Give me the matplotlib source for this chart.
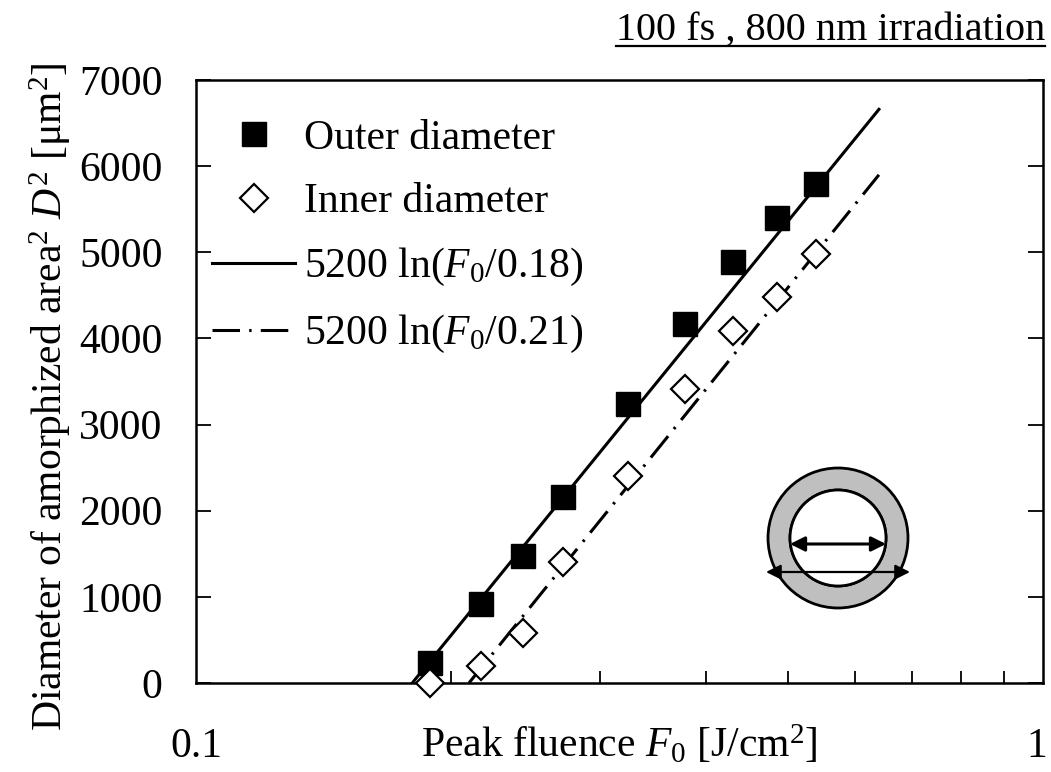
import matplotlib
matplotlib.use('Agg')
import matplotlib.pyplot as plt
import matplotlib.transforms as mtransforms
from matplotlib.legend_handler import HandlerLine2D
from matplotlib.lines import Line2D
from matplotlib.patches import Wedge, Circle
from matplotlib.ticker import LogLocator, NullFormatter

plt.rcParams['font.family'] = ['Liberation Serif', 'DejaVu Serif']
plt.rcParams['mathtext.fontset'] = 'custom'
plt.rcParams['mathtext.rm'] = 'Liberation Serif'
plt.rcParams['mathtext.it'] = 'Liberation Serif:italic'

# peak fluence [J/cm2] and squared diameters [um2]
fluence = [0.189, 0.217, 0.243, 0.271, 0.324, 0.378, 0.431, 0.485, 0.540]
outer_d2 = [230, 920, 1480, 2160, 3240, 4170, 4890, 5400, 5790]
inner_d2 = [0, 200, 580, 1405, 2400, 3415, 4090, 4480, 4980]

# fitted lines (straight on the semilog axes), end points
fit_outer_f = [0.18, 0.64]
fit_outer_d2 = [0, 6660]
fit_inner_f = [0.21, 0.64]
fit_inner_d2 = [0, 5900]

fs = 30


class LeftMarker(HandlerLine2D):
    # put the marker at the left end of the handle
    def get_xdata(self, legend, xdescent, ydescent, width, height, fontsize):
        xdata, _ = super().get_xdata(legend, xdescent, ydescent, width, height, fontsize)
        return xdata, [-xdescent + 0.15 * width]


fig = plt.figure(figsize=(10.51, 7.72), dpi=100)
ax = fig.add_axes([0.1865, 0.1153, 0.806, 0.781])

l1, = ax.plot(fluence, outer_d2, 's', color='k', ms=17, clip_on=False,
              zorder=4, label='Outer diameter')
l2, = ax.plot(fluence, inner_d2, 'D', mfc='white', mec='k', mew=1.6, ms=14,
              clip_on=False, zorder=5, label='Inner diameter')
l3, = ax.plot(fit_outer_f, fit_outer_d2, '-', color='k', lw=2.2,
              label=r'5200 ln($F_0$/0.18)')
l4, = ax.plot(fit_inner_f, fit_inner_d2, color='k', lw=2.2,
              dashes=(9, 3, 0.8, 3), label=r'5200 ln($F_0$/0.21)')

ax.set_xscale('log')
ax.set_xlim(0.1, 1)
ax.set_ylim(0, 7000)
ax.set_yticks(range(0, 7001, 1000))
ax.set_xticks([0.1, 1])
ax.set_xticklabels(['0.1', '1'])
ax.xaxis.set_minor_locator(LogLocator(base=10, subs=range(2, 10)))
ax.xaxis.set_minor_formatter(NullFormatter())
ax.tick_params(axis='x', which='major', length=0, pad=32, labelsize=fs)
ax.tick_params(axis='x', which='minor', direction='in', length=9, width=1.3)
ax.tick_params(axis='y', direction='in', length=11, width=1.3, right=True,
               pad=24, labelsize=fs)
for s in ax.spines.values():
    s.set_linewidth(1.8)

# keep the "1" label inside the figure
last = ax.get_xticklabels()[-1]
last.set_transform(last.get_transform() +
                   mtransforms.ScaledTranslation(-6 / 100, 0, fig.dpi_scale_trans))

ax.set_xlabel(r'Peak fluence $F_0$ [J/cm$^2$]', fontsize=fs)
ax.xaxis.set_label_coords(0.5, -0.066)
ax.set_ylabel(r'Diameter of amorphized area$^2$ $D^2$ [μm$^2$]', fontsize=fs)
ax.yaxis.set_label_coords(-0.145, 0.475)

ax.legend(handles=[l1, l2, l3, l4], loc='upper left',
          bbox_to_anchor=(0.019, 0.935), frameon=False, fontsize=fs,
          handlelength=2.0, handletextpad=0.2, labelspacing=0.6,
          borderpad=0, borderaxespad=0,
          handler_map={l1: LeftMarker(), l2: LeftMarker()})

title = fig.text(1045 / 1051, 1 - 40 / 772, '100 fs , 800 nm irradiation',
                 ha='right', va='baseline', fontsize=29)

# ring sketch
ins = fig.add_axes([758 / 1051, 154 / 772, 160 / 1051, 160 / 772])
ins.set_xlim(-80, 80)
ins.set_ylim(-80, 80)
ins.set_aspect('equal')
ins.axis('off')
ins.add_patch(Wedge((0, 0), 70, 0, 360, width=22, facecolor='#bfbfbf',
                    edgecolor='k', lw=2))
ins.add_patch(Circle((0, 0), 48, facecolor='white', edgecolor='k', lw=2))
ins.annotate('', xy=(-48, -6), xytext=(48, -6),
             arrowprops=dict(arrowstyle='<|-|>', color='k', lw=2.2,
                             mutation_scale=22, shrinkA=0, shrinkB=0))
ins.annotate('', xy=(-72, -34), xytext=(72, -34),
             arrowprops=dict(arrowstyle='<|-|>', color='k', lw=1.6,
                             mutation_scale=22, shrinkA=0, shrinkB=0))

# underline the title
fig.canvas.draw()
bb = title.get_window_extent().transformed(fig.transFigure.inverted())
y_ul = title.get_position()[1] - 6 / 772
fig.add_artist(Line2D([bb.x0, bb.x1], [y_ul, y_ul], color='k', lw=1.6,
                      transform=fig.transFigure))

fig.savefig('out.png', dpi=100)
